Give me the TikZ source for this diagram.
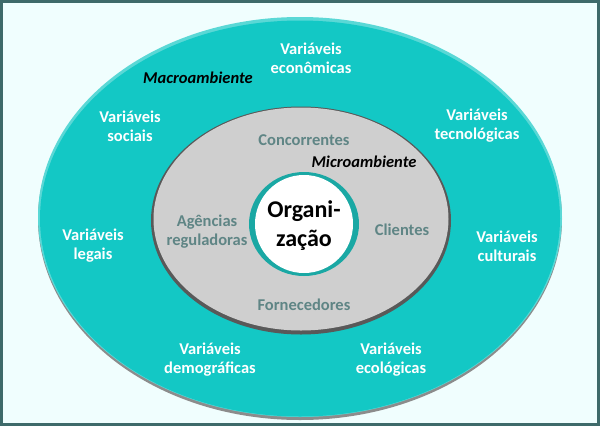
\documentclass[tikz,border=0pt]{standalone}
\usepackage{fontspec}
\setmainfont{Carlito}
\definecolor{frame}{HTML}{3E6A6A}
\definecolor{bgc}{HTML}{F0FEFE}
\definecolor{teal1}{HTML}{13C8C5}
\definecolor{grayfill}{HTML}{CFCFCF}
\definecolor{graytext}{HTML}{5F8585}
\definecolor{orgring}{HTML}{1AA8A4}
\tikzset{
  macro/.style={align=center, text=white, font=\bfseries\fontsize{16.5}{19}\selectfont},
  micro/.style={align=center, text=graytext, font=\bfseries\fontsize{16.5}{19}\selectfont},
  tag/.style={text=black, font=\bfseries\itshape\fontsize{16.5}{19}\selectfont},
}
\begin{document}
\begin{tikzpicture}[x=1pt,y=-1pt]
\useasboundingbox (0,0) rectangle (600,426);
\fill[frame] (0,0) rectangle (600,426);
\fill[bgc] (3,3) rectangle (597,423);
% outer ellipse
\fill[black!45] (300,219) ellipse [x radius=262, y radius=201];
\fill[teal1!70!white] (300,217) ellipse [x radius=262, y radius=200];
\fill[teal1] (300,218.5) ellipse [x radius=260, y radius=198];
% inner ellipse
\fill[black!65] (301,220.5) ellipse [x radius=150, y radius=114];
\fill[grayfill] (301,219) ellipse [x radius=147.5, y radius=111.5];
% organization circle
\fill[orgring] (304,224) ellipse [x radius=55, y radius=52];
\node[circle, fill=white, minimum size=98pt, inner sep=0pt] (org) at (304,224) {};
\node[align=center, font=\bfseries\fontsize{24}{29}\selectfont, text=black] (orgt) at (304,226) {Organi-\\zação};
% macro variables
\node[macro] (eco) at (311,58) {Variáveis\\econômicas};
\node[tag] (macroT) at (198,78) {Macroambiente};
\node[macro] (soc) at (130,126) {Variáveis\\sociais};
\node[macro] (tec) at (477,126) {Variáveis\\tecnológicas};
\node[macro] (leg) at (93,246) {Variáveis\\legais};
\node[macro] (cul) at (507,246) {Variáveis\\culturais};
\node[macro] (dem) at (210,360) {Variáveis\\demográficas};
\node[macro] (ecol) at (391,360) {Variáveis\\ecológicas};
% micro
\node[micro] (conc) at (304,140) {Concorrentes};
\node[tag] (microT) at (364,162) {Microambiente};
\node[micro] (ag) at (207,232) {Agências\\reguladoras};
\node[micro] (cli) at (402,230) {Clientes};
\node[micro] (forn) at (304,305) {Fornecedores};
\end{tikzpicture}
\end{document}
